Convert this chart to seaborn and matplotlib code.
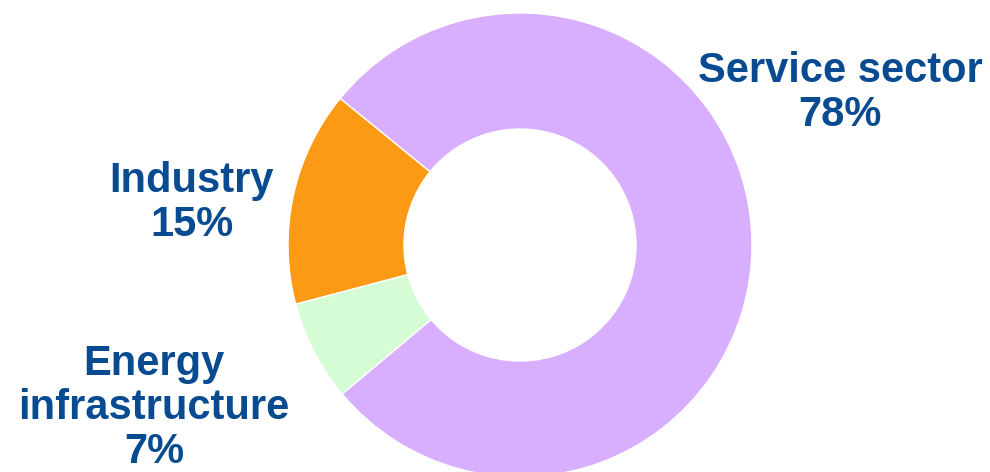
import matplotlib
matplotlib.use("Agg")
import matplotlib.pyplot as plt
import seaborn as sns

# Share of each sector
sectors = ["Industry", "Energy\ninfrastructure", "Service sector"]
shares = [15, 7, 78]
colors = ["#FD9A15", "#D6FCD6", "#D8AEFE"]

# Label anchor points (pixel space, y measured from the top)
label_x = [192, 154, 840]
label_y = [203, 408, 93]

sns.set_theme(style="white")
plt.rcParams["font.family"] = ["Liberation Sans", "DejaVu Sans"]

W, H = 990, 472
fig = plt.figure(figsize=(W / 100, H / 100), dpi=100)
ax = fig.add_axes([0, 0, 1, 1])

ax.pie(
    shares,
    colors=colors,
    startangle=140.8,
    counterclock=True,
    center=(520, H - 245),
    radius=232,
    wedgeprops=dict(width=116, edgecolor="white", linewidth=1),
    frame=True,
)
ax.set_xlim(0, W)
ax.set_ylim(0, H)
ax.set_aspect("equal")
ax.axis("off")

for name, pct, x, y in zip(sectors, shares, label_x, label_y):
    ax.text(x, H - y, f"{name}\n{pct}%", ha="center", va="center",
            multialignment="center", fontsize=30, fontweight="bold",
            color="#084B91", linespacing=1.12)

fig.savefig("out.png", dpi=100, facecolor="white")
